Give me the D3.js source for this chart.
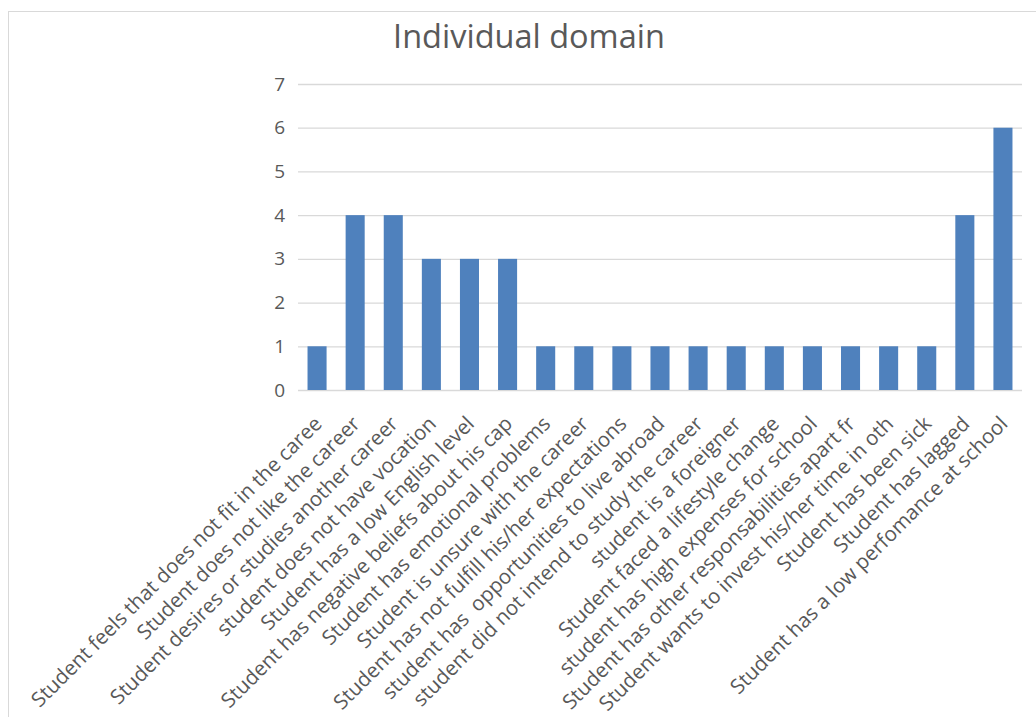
<!DOCTYPE html>
<html>
<head>
<meta charset="utf-8">
<script src="https://cdn.jsdelivr.net/npm/d3@7"></script>
<style>
  html, body { margin: 0; padding: 0; background: #fff; }
  svg { display: block; }
</style>
</head>
<body>
<svg id="chart" width="1036" height="717"></svg>
<script>
// Reasons grouped under the individual domain, with their counts
const categories = [
  "Student feels that does not fit in the caree",
  "Student does not like the career",
  "Student desires or studies another career",
  "student does not have vocation",
  "Student has a low English level",
  "Student has negative beliefs about his cap",
  "Student has emotional problems",
  "Student is unsure with the career",
  "Student has not fulfill his/her expectations",
  "student has  opportunities to live abroad",
  "student did not intend to study the career",
  "student is a foreigner",
  "Student faced a lifestyle change",
  "student has high expenses for school",
  "Student has other responsabilities apart fr",
  "Student wants to invest his/her time in oth",
  "Student has been sick",
  "Student has lagged",
  "Student has a low perfomance at school"
];
const counts = [1, 4, 4, 3, 3, 3, 1, 1, 1, 1, 1, 1, 1, 1, 1, 1, 1, 4, 6];
const yTicks = [0, 1, 2, 3, 4, 5, 6, 7];
const title = "Individual domain";

const svg = d3.select("#chart");
const font = "'Open Sans', 'Noto Sans', sans-serif";
const textColor = "#595959";

// chart frame (runs past the right and bottom edges)
svg.append("rect")
  .attr("x", 8.5).attr("y", 11.5)
  .attr("width", 1060).attr("height", 730)
  .attr("fill", "none").attr("stroke", "#d9d9d9");

const plot = { left: 298, right: 1022, top: 84, bottom: 390 };

const x = d3.scaleBand()
  .domain(categories)
  .range([plot.left, plot.right])
  .paddingInner(0.5)
  .paddingOuter(0.25);

const y = d3.scaleLinear()
  .domain([0, 7])
  .range([plot.bottom, plot.top]);

// horizontal gridlines + value labels
const yAxis = d3.axisLeft(y)
  .tickValues(yTicks)
  .tickSize(-(plot.right - plot.left))
  .tickPadding(13)
  .tickFormat(d3.format("d"));

const gy = svg.append("g")
  .attr("transform", `translate(${plot.left},0)`)
  .call(yAxis);
gy.select(".domain").remove();
gy.selectAll(".tick line").attr("stroke", "#d9d9d9").attr("stroke-width", 1.3);
gy.selectAll(".tick text")
  .attr("fill", textColor)
  .style("font-family", font)
  .style("font-size", "19px");

// bars
svg.append("g").selectAll("rect")
  .data(counts)
  .join("rect")
  .attr("x", (d, i) => x(categories[i]))
  .attr("y", d => y(d))
  .attr("width", x.bandwidth())
  .attr("height", d => y(0) - y(d))
  .attr("fill", "#4f81bd");

// rotated category labels
const gx = svg.append("g")
  .attr("transform", `translate(0,${plot.bottom})`)
  .call(d3.axisBottom(x).tickSize(0).tickPadding(0));
gx.select(".domain").remove();
gx.selectAll(".tick text")
  .attr("fill", textColor)
  .style("font-family", font)
  .style("font-size", "20.5px")
  .style("white-space", "pre")
  .attr("text-anchor", "end")
  .attr("dy", "0")
  .attr("transform", "translate(6,35) rotate(-45)");

// title
svg.append("text")
  .attr("x", 529)
  .attr("y", 48)
  .attr("text-anchor", "middle")
  .attr("fill", textColor)
  .style("font-family", font)
  .style("font-size", "32.5px")
  .text(title);
</script>
</body>
</html>
